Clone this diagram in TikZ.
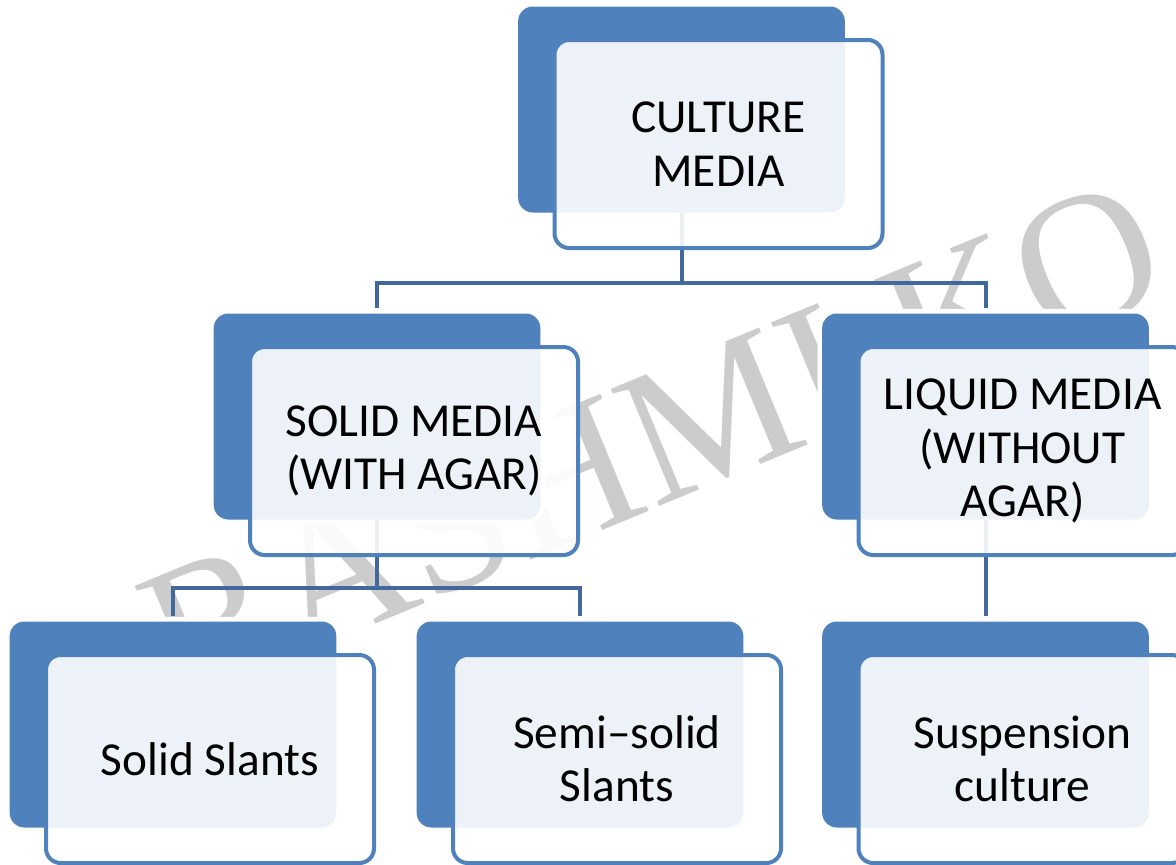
\documentclass[tikz,border=0pt]{standalone}
\usepackage{fontspec}
\setmainfont{Carlito}
\newfontfamily\markfont{Liberation Serif}
\usetikzlibrary{positioning, calc}

\definecolor{boxblue}{RGB}{79,129,189}
\definecolor{linkblue}{RGB}{65,105,155}
\definecolor{markgray}{RGB}{204,204,204}

\tikzset{
	backbox/.style={rectangle, rounded corners=11pt, fill=boxblue, minimum width=245pt, minimum height=154.5pt, inner sep=0pt, outer sep=0pt, preaction={draw=white, line width=7pt}},
	frontbox/.style={rectangle, rounded corners=11pt, draw=boxblue, line width=3pt, fill=white, fill opacity=0.9, text opacity=1, minimum width=246pt, minimum height=156pt, inner sep=0pt, outer sep=0pt, align=center, font=\fontsize{35.5}{40}\selectfont},
	link/.style={draw=linkblue, line width=3pt},
}

\begin{document}
\begin{tikzpicture}[x=0.75pt, y=-0.75pt]
		
		\clip (0,0) rectangle (1176,864);
		
		%watermark
		\node [rotate=22.5, anchor=base west, inner sep=0pt, text=markgray, font=\markfont\fontsize{145}{145}\selectfont] (mark) at (178,706) {RASHMI KO};
		
		%back boxes
		\node [backbox] (cmb) at (681.5,109.5) {};
		\node [backbox] (solidb) at (377,416.5) {};
		\node [backbox] (liquidb) at (985.5,416.5) {};
		\node [backbox] (slantb) at (173,724.5) {};
		\node [backbox] (semib) at (580,724.5) {};
		\node [backbox] (suspb) at (985.5,724.5) {};
		
		%links
		\draw [link] (cmb.south) -- ++(0,70) coordinate (bus1);
		\draw [link, shorten <=4pt, shorten >=4pt] (solidb.north) |- (bus1) -| (liquidb.north);
		\draw [link] (solidb.south) -- ++(0,68) coordinate (bus2);
		\draw [link, shorten <=4pt, shorten >=4pt] (slantb.north) |- (bus2) -| (semib.north);
		\draw [link, shorten >=4pt] (liquidb.south) -- (suspb.north);
		
		%front boxes
		\node [frontbox] (cm) at ($(cmb)+(37,34.5)$) {CULTURE\\MEDIA};
		\node [frontbox] (solid) at ($(solidb)+(37,34.5)$) {SOLID MEDIA\\(WITH AGAR)};
		\node [frontbox] (liquid) at ($(liquidb)+(37,34.5)$) {LIQUID MEDIA\\(WITHOUT\\AGAR)};
		\node [frontbox] (slant) at ($(slantb)+(37,34.5)$) {Solid Slants};
		\node [frontbox] (semi) at ($(semib)+(37,34.5)$) {Semi--solid\\Slants};
		\node [frontbox] (susp) at ($(suspb)+(37,34.5)$) {Suspension\\culture};
		
\end{tikzpicture}
\end{document}
